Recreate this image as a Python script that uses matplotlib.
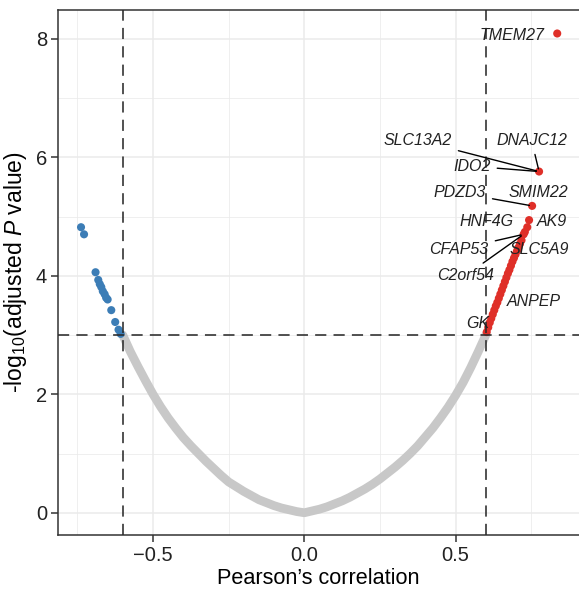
import matplotlib
matplotlib.use('Agg')
import matplotlib.pyplot as plt

plt.rcParams['font.family'] = ['Liberation Sans', 'DejaVu Sans']
plt.rcParams['mathtext.fontset'] = 'custom'
plt.rcParams['mathtext.rm'] = 'Liberation Sans'
plt.rcParams['mathtext.it'] = 'Liberation Sans:italic'

# non-significant genes (dense grey U-shaped band)
gray_r = [-0.600, -0.575, -0.550, -0.525, -0.500, -0.475, -0.450, -0.425, -0.400, -0.375, -0.350,
          -0.325, -0.300, -0.275, -0.250, -0.225, -0.200, -0.175, -0.150, -0.125, -0.100, -0.075,
          -0.050, -0.025, 0.000, 0.025, 0.050, 0.075, 0.100, 0.125, 0.150, 0.175, 0.200, 0.225,
          0.250, 0.275, 0.300, 0.325, 0.350, 0.375, 0.400, 0.425, 0.450, 0.475, 0.500, 0.525,
          0.550, 0.575, 0.600]
gray_y = [3.00, 2.72, 2.47, 2.23, 2.00, 1.79, 1.60, 1.43, 1.27, 1.13, 1.00,
          0.87, 0.75, 0.63, 0.52, 0.44, 0.36, 0.29, 0.22, 0.17, 0.12, 0.08,
          0.05, 0.02, 0.00, 0.03, 0.06, 0.10, 0.15, 0.20, 0.26, 0.33, 0.40, 0.48,
          0.57, 0.67, 0.77, 0.88, 1.00, 1.13, 1.28, 1.43, 1.60, 1.78, 1.98, 2.20,
          2.45, 2.72, 3.00]

# negatively correlated, significant
blue_r = [-0.738, -0.728, -0.690, -0.681, -0.676, -0.671, -0.666, -0.660, -0.655, -0.650, -0.638, -0.625, -0.614, -0.607]
blue_y = [4.82, 4.70, 4.06, 3.93, 3.86, 3.81, 3.74, 3.69, 3.63, 3.60, 3.42, 3.22, 3.09, 3.02]

# positively correlated, significant
red_r = [0.603, 0.608, 0.613, 0.618, 0.623, 0.628, 0.633, 0.638, 0.643, 0.648, 0.653, 0.658, 0.663,
         0.668, 0.673, 0.678, 0.683, 0.688, 0.693, 0.698, 0.703, 0.708, 0.713, 0.718, 0.725,
         0.729, 0.737, 0.743, 0.753, 0.776, 0.836]
red_y = [3.05, 3.13, 3.21, 3.28, 3.35, 3.42, 3.49, 3.55, 3.62, 3.69, 3.76, 3.83, 3.90,
         3.97, 4.04, 4.10, 4.17, 4.24, 4.30, 4.36, 4.42, 4.48, 4.54, 4.60, 4.70,
         4.74, 4.82, 4.94, 5.18, 5.76, 8.09]

# gene labels: name, label position, point the segment goes to (None = no segment)
genes = ['TMEM27', 'SLC13A2', 'DNAJC12', 'IDO2', 'PDZD3', 'SMIM22', 'HNF4G', 'AK9',
         'CFAP53', 'SLC5A9', 'C2orf54', 'ANPEP', 'GK']
label_x = [0.685, 0.374, 0.751, 0.553, 0.513, 0.774, 0.604, 0.818, 0.511, 0.775, 0.532, 0.758, 0.572]
label_y = [8.06, 6.29, 6.29, 5.85, 5.40, 5.40, 4.91, 4.91, 4.45, 4.45, 4.00, 3.56, 3.19]
seg_to = [None, (0.776, 5.76), (0.776, 5.76), (0.776, 5.76), (0.753, 5.18), None, None, None,
          (0.725, 4.70), None, (0.725, 4.70), None, None]

r_cut = 0.6
p_cut = 3

fig = plt.figure(figsize=(5.79, 5.97), dpi=100)
ax = fig.add_axes([0.0997, 0.1039, 0.9003, 0.8793])

ax.plot(gray_r, gray_y, color='#C8C8C8', lw=6.3, solid_capstyle='round', solid_joinstyle='round', zorder=2)
ax.scatter(blue_r, blue_y, s=34, color='#3C7DB6', edgecolors='none', zorder=3)
ax.scatter(red_r, red_y, s=34, color='#DF2F28', edgecolors='none', zorder=3)

dash = dict(color='#2b2b2b', lw=1.15, dashes=(7, 4.5), zorder=4)
ax.axvline(-r_cut, **dash)
ax.axvline(r_cut, **dash)
ax.axhline(p_cut, **dash)

for name, tx, ty, tgt in zip(genes, label_x, label_y, seg_to):
    if tgt is None:
        ax.text(tx, ty, name, ha='center', va='center', fontsize=11.5, style='italic', color='#222222', zorder=5)
    else:
        ax.annotate(name, xy=tgt, xytext=(tx, ty), ha='center', va='center', fontsize=11.5,
                    style='italic', color='#222222', zorder=5,
                    arrowprops=dict(arrowstyle='-', color='black', lw=1.0, shrinkA=3, shrinkB=2))

ax.set_xlim(-0.815, 0.908)
ax.set_ylim(-0.375, 8.486)
ax.set_xticks([-0.5, 0, 0.5])
ax.set_xticklabels(['\u22120.5', '0.0', '0.5'])
ax.set_xticks([-0.75, -0.25, 0.25, 0.75], minor=True)
ax.set_yticks([0, 2, 4, 6, 8])
ax.set_yticks([1, 3, 5, 7], minor=True)
ax.grid(which='major', color='#EBEBEB', lw=1.1)
ax.grid(which='minor', color='#EBEBEB', lw=0.55)
ax.set_axisbelow(True)

for s in ['left', 'bottom', 'top']:
    ax.spines[s].set_color('#333333')
    ax.spines[s].set_linewidth(1.1)
ax.spines['right'].set_visible(False)
ax.tick_params(which='major', length=4.8, width=1.1, color='#333333', labelsize=14.5, labelcolor='#222222', pad=3)
ax.tick_params(which='minor', length=0)

ax.set_xlabel('Pearson\u2019s correlation', fontsize=15.6, labelpad=2)
ax.set_ylabel('-log$_{10}$(adjusted $\\mathit{P}$ value)', fontsize=16.5, labelpad=5)

fig.savefig('out.png', dpi=100)
